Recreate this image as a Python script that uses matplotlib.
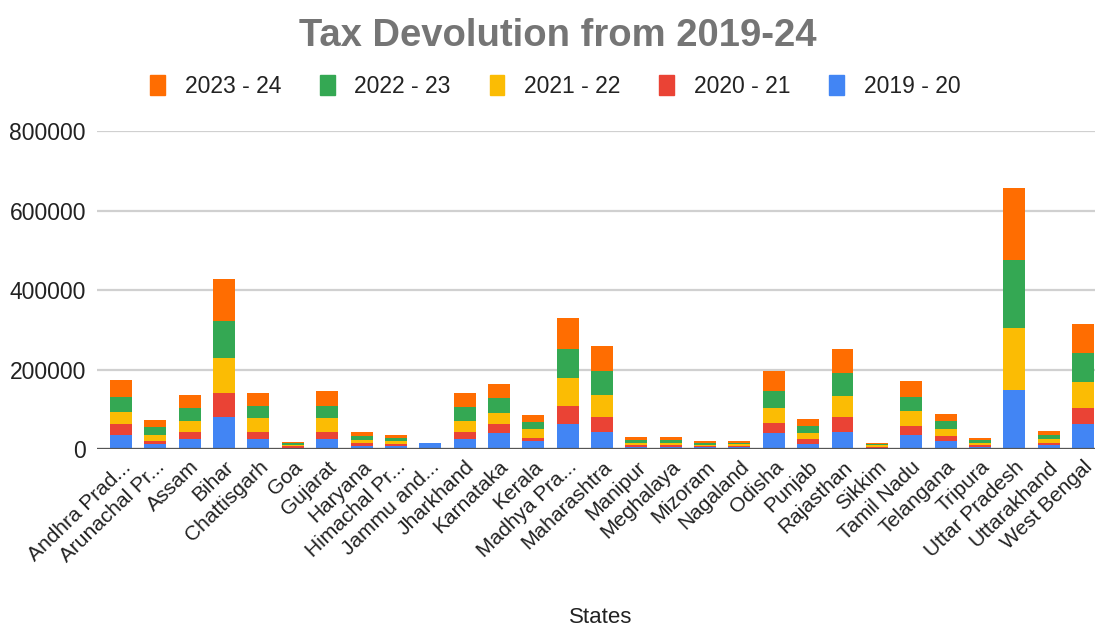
import numpy as np
import matplotlib.pyplot as plt
from matplotlib.patches import Patch

plt.rcParams["font.family"] = ["Liberation Sans", "DejaVu Sans"]

states = ["Andhra Prad...", "Arunachal Pr...", "Assam", "Bihar", "Chattisgarh", "Goa",
          "Gujarat", "Haryana", "Himachal Pr...", "Jammu and...", "Jharkhand", "Karnataka",
          "Kerala", "Madhya Pra...", "Maharashtra", "Manipur", "Meghalaya", "Mizoram",
          "Nagaland", "Odisha", "Punjab", "Rajasthan", "Sikkim", "Tamil Nadu", "Telangana",
          "Tripura", "Uttar Pradesh", "Uttarakhand", "West Bengal"]

fy_2019_20 = [35000, 13000, 25000, 81000, 25000, 3500, 25000, 8000, 6500, 16000, 25000, 40000,
              21000, 62000, 44000, 6000, 6000, 4000, 4500, 40000, 13000, 44000, 3000, 35000,
              21000, 6000, 149000, 9000, 63000]
fy_2020_21 = [27000, 7000, 17000, 59000, 17000, 3000, 17000, 6000, 5000, 0, 17000, 22000,
              8000, 46000, 36000, 4000, 4000, 3000, 3000, 25000, 11000, 36000, 3000, 23000,
              13000, 4000, 0, 7000, 40000]
fy_2021_22 = [32000, 15000, 29000, 89000, 35000, 4000, 35000, 9000, 8000, 0, 29000, 28000,
              21000, 70000, 56000, 6000, 6000, 4000, 4000, 39000, 16000, 54000, 3000, 38000,
              16000, 6000, 155000, 10000, 65000]
fy_2022_23 = [38000, 20000, 33000, 93000, 31000, 4000, 31000, 10000, 7000, 0, 34000, 38000,
              19000, 73000, 61000, 6000, 6000, 4000, 4000, 41000, 19000, 57000, 3000, 36000,
              21000, 6000, 171000, 10000, 73000]
fy_2023_24 = [42000, 18000, 32000, 106000, 32000, 4000, 37000, 11000, 8500, 0, 35000, 36000,
              17000, 79000, 63000, 7500, 7500, 5000, 4500, 52000, 17000, 60000, 4000, 40000,
              17000, 7000, 182000, 10000, 74000]

series = [("2019 - 20", fy_2019_20, "#4285F4"),
          ("2020 - 21", fy_2020_21, "#EA4335"),
          ("2021 - 22", fy_2021_22, "#FBBC04"),
          ("2022 - 23", fy_2022_23, "#34A853"),
          ("2023 - 24", fy_2023_24, "#FF6D01")]

fig = plt.figure(figsize=(10.95, 6.26), dpi=100)
ax = fig.add_axes([0.0886, 0.2827, 0.9114, 0.508])

x = np.arange(len(states))
bottom = np.zeros(len(states))
for label, values, color in series:
    ax.bar(x, values, 0.64, bottom=bottom, color=color, label=label, zorder=3)
    bottom += np.array(values)

ax.set_ylim(0, 800000)
ax.set_xlim(-0.70, 28.35)
ax.set_yticks([0, 200000, 400000, 600000, 800000])
ax.yaxis.grid(True, color="#d0d0d0", linewidth=1.6, zorder=0)
ax.axhline(0, color="#555555", linewidth=1.6, zorder=4)
for side in ["top", "right", "left", "bottom"]:
    ax.spines[side].set_visible(False)
ax.tick_params(axis="both", length=0, labelcolor="#222222")
ax.tick_params(axis="y", pad=8, labelsize=16.5)
ax.tick_params(axis="x", pad=6, labelsize=15)
ax.set_xticks(x)
ax.set_xticklabels(states, rotation=44, ha="right", rotation_mode="anchor")
ax.set_xlabel("States", fontsize=16, color="#222222")
ax.xaxis.set_label_coords(0.505, -0.497)

fig.suptitle("Tax Devolution from 2019-24", fontsize=27.5, fontweight="bold",
             color="#757575", x=0.509, y=0.972)

handles = [Patch(color=c, label=l) for l, _, c in reversed(series)]
fig.legend(handles=handles, loc="center", bbox_to_anchor=(0.507, 0.862), ncol=5,
           frameon=False, fontsize=16.5, handlelength=0.65, handleheight=0.95,
           handletextpad=0.85, columnspacing=1.7, labelcolor="#222222")

fig.savefig("out.png", dpi=100)
